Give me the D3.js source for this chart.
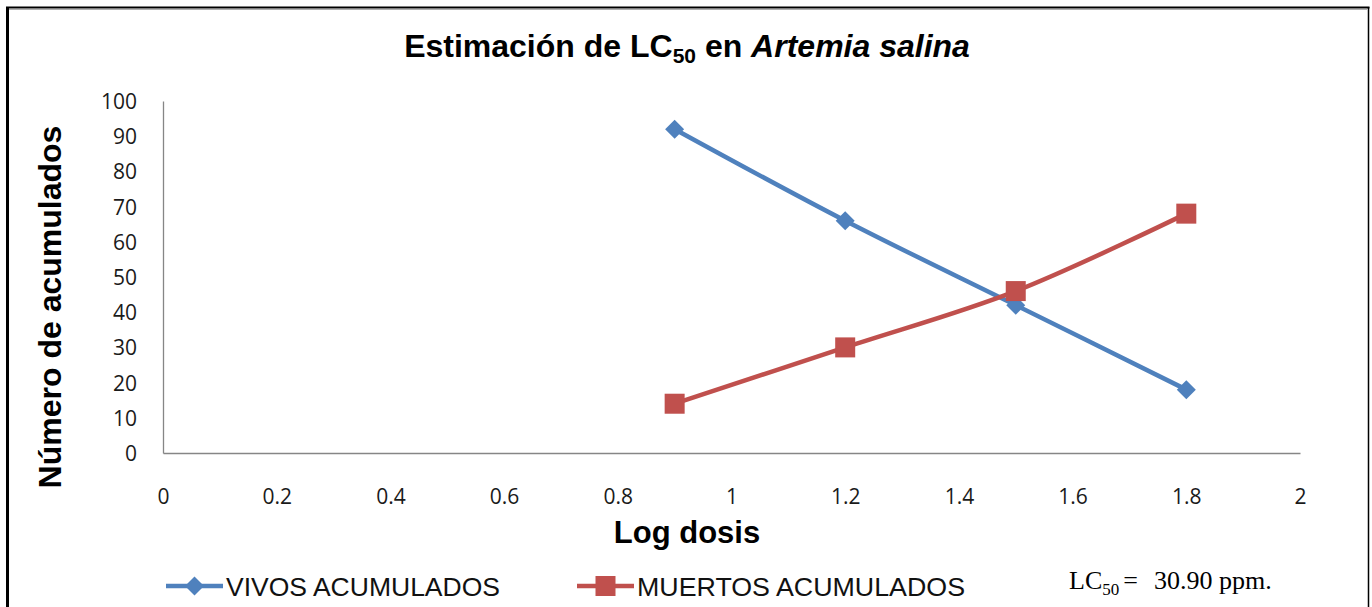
<!DOCTYPE html>
<html>
<head>
<meta charset="utf-8">
<script src="https://cdn.jsdelivr.net/npm/d3@7"></script>
<style>
  html, body { margin: 0; padding: 0; background: #fff; }
  svg { display: block; }
</style>
</head>
<body>
<svg id="chart" width="1372" height="607"></svg>
<script>
// Log dose values and cumulative counts per series
const logDosis = [0.9, 1.2, 1.5, 1.8];
const vivosAcumulados = [92, 66, 42, 18];
const muertosAcumulados = [14, 30, 46, 68];
const xTicks = [0, 0.2, 0.4, 0.6, 0.8, 1, 1.2, 1.4, 1.6, 1.8, 2];
const yTicks = [0, 10, 20, 30, 40, 50, 60, 70, 80, 90, 100];
const seriesNames = ["VIVOS ACUMULADOS", "MUERTOS ACUMULADOS"];
const lc50Value = "30.90 ppm.";

const BLUE = "#4F81BD", RED = "#C0504D";
const svg = d3.select("#chart");

// outer frame
svg.append("line").attr("x1", 7.5).attr("x2", 7.5).attr("y1", 7).attr("y2", 607)
  .attr("stroke", "#000").attr("stroke-width", 3);
svg.append("line").attr("x1", 6).attr("x2", 1369.5).attr("y1", 7.5).attr("y2", 7.5)
  .attr("stroke", "#000").attr("stroke-width", 2);
svg.append("line").attr("x1", 1368.5).attr("x2", 1368.5).attr("y1", 7).attr("y2", 607)
  .attr("stroke", "#000").attr("stroke-width", 1.5);
svg.append("line").attr("x1", 9).attr("x2", 1367).attr("y1", 9.5).attr("y2", 9.5)
  .attr("stroke", "#b0b0b0").attr("stroke-width", 1);

const x = d3.scaleLinear().domain([0, 2]).range([163, 1300]);
const y = d3.scaleLinear().domain([0, 100]).range([453, 101]);

// axes (lines only; tick labels drawn by the axis generators)
const xAxis = d3.axisBottom(x).tickValues(xTicks).tickSize(0).tickPadding(36)
  .tickFormat(d => d3.format("")(+d.toFixed(1)));
const gx = svg.append("g").attr("transform", `translate(0,${y(0)})`).call(xAxis);
const yAxis = d3.axisLeft(y).tickValues(yTicks).tickSize(0).tickPadding(26);
const gy = svg.append("g").attr("transform", `translate(${x(0)},0)`).call(yAxis);
[gx, gy].forEach(g => {
  g.select(".domain").attr("stroke", "#868686").attr("stroke-width", 1.3);
  g.selectAll("text").attr("font-family", "'Open Sans', sans-serif")
    .attr("font-size", 21).attr("fill", "#1a1a1a");
});
gy.selectAll("text").attr("dy", "0.36em");

// series lines
const line = d3.line().x((d, i) => x(logDosis[i])).y(d => y(d)).curve(d3.curveCatmullRom);
svg.append("path").datum(vivosAcumulados).attr("d", line)
  .attr("fill", "none").attr("stroke", BLUE).attr("stroke-width", 4.5);
svg.append("path").datum(muertosAcumulados).attr("d", line)
  .attr("fill", "none").attr("stroke", RED).attr("stroke-width", 4.5);

const diamond = (cx, cy, r) => `M${cx},${cy - r}L${cx + r},${cy}L${cx},${cy + r}L${cx - r},${cy}Z`;
svg.append("g").selectAll("path").data(vivosAcumulados).join("path")
  .attr("d", (d, i) => diamond(x(logDosis[i]), y(d), 9.5)).attr("fill", BLUE);
svg.append("g").selectAll("rect").data(muertosAcumulados).join("rect")
  .attr("x", (d, i) => x(logDosis[i]) - 10).attr("y", d => y(d) - 10)
  .attr("width", 20).attr("height", 20).attr("fill", RED);

// title
const title = svg.append("text").attr("x", 687).attr("y", 57).attr("text-anchor", "middle")
  .attr("font-family", "'Liberation Sans', Arial, sans-serif").attr("font-weight", "bold")
  .attr("font-size", 32).attr("fill", "#000");
title.append("tspan").text("Estimación de LC");
title.append("tspan").attr("font-size", 21).attr("dy", 6).text("50");
title.append("tspan").attr("dy", -6).text(" en ");
title.append("tspan").attr("font-style", "italic").text("Artemia salina");

// axis titles
svg.append("text").attr("x", 687).attr("y", 543).attr("text-anchor", "middle")
  .attr("font-family", "'Liberation Sans', Arial, sans-serif").attr("font-weight", "bold")
  .attr("font-size", 31).text("Log dosis");
svg.append("text").attr("transform", "translate(61,307) rotate(-90)").attr("text-anchor", "middle")
  .attr("font-family", "'Liberation Sans', Arial, sans-serif").attr("font-weight", "bold")
  .attr("font-size", 32).text("Número de acumulados");

// legend
const legend = [
  { name: seriesNames[0], color: BLUE, x0: 166, marker: "diamond" },
  { name: seriesNames[1], color: RED, x0: 577, marker: "square" }
];
const lg = svg.append("g");
legend.forEach(l => {
  const ly = 586;
  lg.append("line").attr("x1", l.x0).attr("x2", l.x0 + 57).attr("y1", ly).attr("y2", ly)
    .attr("stroke", l.color).attr("stroke-width", 4.5);
  const cx = l.x0 + 28.5;
  if (l.marker === "diamond") {
    lg.append("path").attr("d", diamond(cx, ly, 9.5)).attr("fill", l.color);
  } else {
    lg.append("rect").attr("x", cx - 10).attr("y", ly - 10).attr("width", 20).attr("height", 20)
      .attr("fill", l.color);
  }
  lg.append("text").attr("x", l.x0 + 60).attr("y", ly + 10)
    .attr("font-family", "'Liberation Sans', Arial, sans-serif").attr("font-size", 26)
    .attr("textLength", l.marker === "diamond" ? 274 : 328).attr("lengthAdjust", "spacingAndGlyphs")
    .attr("fill", "#111").text(l.name);
});

// LC50 note
const note = svg.append("text").attr("x", 1069).attr("y", 589)
  .attr("font-family", "'Liberation Serif', 'Times New Roman', serif").attr("font-size", 26)
  .attr("fill", "#000");
note.append("tspan").text("LC");
note.append("tspan").attr("font-size", 17).attr("dy", 6).text("50");
note.append("tspan").attr("dy", -6).attr("dx", 4).text("=");
note.append("tspan").attr("dx", 16).text(lc50Value);
</script>
</body>
</html>
